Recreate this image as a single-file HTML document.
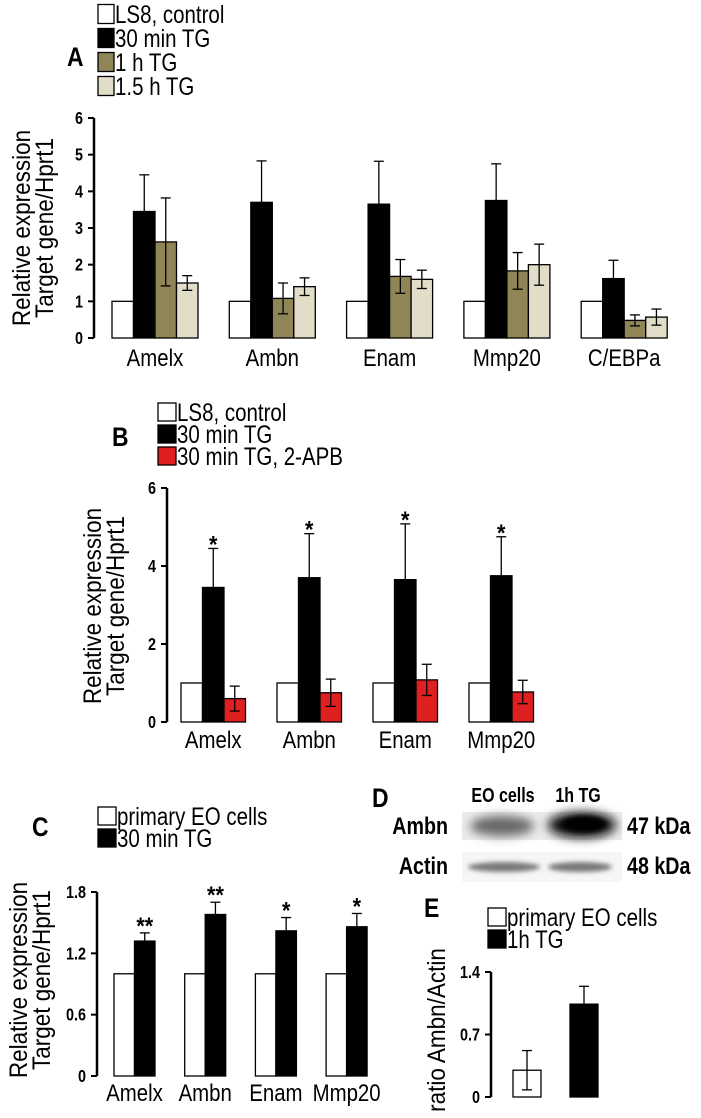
<!DOCTYPE html>
<html><head><meta charset="utf-8"><style>
html,body{margin:0;padding:0;background:#fff;}
svg{display:block;font-family:"Liberation Sans",sans-serif;}
</style></head><body>
<svg id="fig" width="701" height="1118" viewBox="0 0 701 1118" xmlns="http://www.w3.org/2000/svg">
<defs>
<filter id="blur" x="-30%" y="-60%" width="160%" height="220%"><feGaussianBlur stdDeviation="5"/></filter>
<filter id="blur2" x="-30%" y="-60%" width="160%" height="220%"><feGaussianBlur stdDeviation="2.5"/></filter>
</defs>
<g id="root"></g>
</svg>
<script>
// Panel A data
const catsA = ["Amelx","Ambn","Enam","Mmp20","C/EBPa"];
const ctrlA = [1,1,1,1,1];
const tg30A = [3.45,3.7,3.65,3.75,1.62];
const tg30ErrA = [1.0,1.13,1.17,1.0,0.5];
const tg1hA = [2.62,1.08,1.68,1.83,0.48];
const tg1hErrA = [1.2,0.42,0.46,0.5,0.15];
const tg15A = [1.5,1.4,1.6,2.0,0.57];
const tg15ErrA = [0.2,0.24,0.25,0.56,0.22];
const ticksA = [0,1,2,3,4,5,6];
// Panel B data
const catsB = ["Amelx","Ambn","Enam","Mmp20"];
const ctrlB = [1,1,1,1];
const tg30B = [3.45,3.7,3.65,3.75];
const tg30ErrB = [1.0,1.13,1.43,1.0];
const apbB = [0.6,0.75,1.08,0.77];
const apbErrB = [0.32,0.35,0.4,0.3];
const starsB = ["*","*","*","*"];
const ticksB = [0,2,4,6];
// Panel C data
const catsC = ["Amelx","Ambn","Enam","Mmp20"];
const ctrlC = [1,1,1,1];
const tg30C = [1.32,1.58,1.42,1.46];
const tg30ErrC = [0.08,0.12,0.13,0.13];
const starsC = ["**","**","*","*"];
const ticksC = [0,0.6,1.2,1.8];
const tickLabC = ["0","0.6","1.2","1.8"];
// Panel E data
const catsE = ["primary EO cells","1h TG"];
const valsE = [0.3,1.04];
const errE = [0.22,0.2];
const ticksE = [0,0.7,1.4];
const tickLabE = ["0","0.7","1.4"];

const NS="http://www.w3.org/2000/svg";
const root=document.getElementById('root');
function mk(tag,attrs,parent,txt){const e=document.createElementNS(NS,tag);for(const k in attrs)e.setAttribute(k,attrs[k]);if(txt!==undefined)e.textContent=txt;(parent||root).appendChild(e);return e;}
function T(g,x,y,s,size,opts){
  opts=opts||{};
  const sx=opts.sx||0.82;
  const a={x:0,y:0,'font-size':size,transform:`translate(${x},${y})${opts.rot?' rotate(-90)':''} scale(${sx},1)`};
  if(opts.anchor)a['text-anchor']=opts.anchor;
  if(opts.bold)a['font-weight']='bold';
  return mk('text',a,g,s);
}
function scale(d0,d1,r0,r1){return v=>r0+(v-d0)/(d1-d0)*(r1-r0);}

function axis(g,x,y,ticks,labels,top){
  const ln=mk('line',{x1:x,y1:y(ticks[0]),x2:x,y2:y(top),stroke:'#000','stroke-width':2.5},g);
  
  
  ticks.forEach((t,i)=>{
    const tl=mk('line',{x1:x-6,y1:y(t),x2:x,y2:y(t),stroke:'#000','stroke-width':2},g);
    
    
    const tx=T(g,x-11,y(t)+6,labels?labels[i]:String(t),18,{anchor:'end',bold:true,sx:0.8});
    
    
  });
}
function bar(g,x,w,y,v,fill,name){
  const r=mk('rect',{x:x,y:y(v),width:w,height:y(0)-y(v),fill:fill,stroke:'#000','stroke-width':1.3},g);
  
  
}
function err(g,cx,y,v,e,both){
  const lo=both?v-e:v;
  const l=mk('line',{x1:cx,y1:y(lo),x2:cx,y2:y(v+e),stroke:'#000','stroke-width':1.3},g);
  
  
  mk('line',{x1:cx-5,y1:y(v+e),x2:cx+5,y2:y(v+e),stroke:'#000','stroke-width':1.3},g);
  if(both) mk('line',{x1:cx-5,y1:y(lo),x2:cx+5,y2:y(lo),stroke:'#000','stroke-width':1.3},g);
}
function legend(g,x,y0,dy,items,w,h){
  items.forEach((it,i)=>{
    const r=mk('rect',{x:x,y:y0+i*dy-h/2,width:w,height:h,fill:it[1],stroke:'#000','stroke-width':1.3},g);
    
    
    const t=T(g,x+w+1,y0+i*dy+9,it[0],25,{sx:0.82});
    
    
  });
}
function ytitle(g,cx,cy,lines){
  lines.forEach((s,i)=>{
    const t=T(g,cx+i*23,cy,s,25,{anchor:'middle',rot:true,sx:0.9});
    
    
  });
}
function label(g,x,y,s,name){const t=T(g,x,y,s,27,{bold:true,sx:0.85});return t;}
function xlab(g,x,y,s){const t=T(g,x,y,s,24,{anchor:'middle',sx:0.85});}
function star(g,x,y,s){const t=T(g,x,y,s,24,{anchor:'middle',bold:true,sx:0.9});}

// ---------- Panel A ----------
{
const g=mk('g',{});  
label(g,67,66,'A','panel-a-label');
legend(g,98,14,24,[["LS8, control","#fff"],["30 min TG","#000"],["1 h TG","#8f8557"],["1.5 h TG","#e1ddc9"]],16,19);
const y=scale(0,6,338,118);
ytitle(g,30,228,["Relative expression","Target gene/Hprt1"]);
axis(g,94,y,ticksA,null,6);
const bw=21.5, x0=112, sp=117.3;
catsA.forEach((c,i)=>{
  const gx=x0+i*sp;
  bar(g,gx,bw,y,ctrlA[i],'#fff','bar-control');
  bar(g,gx+bw,bw,y,tg30A[i],'#000','bar-30min');
  err(g,gx+bw*1.5,y,tg30A[i],tg30ErrA[i],false);
  bar(g,gx+bw*2,bw,y,tg1hA[i],'#8f8557','bar-1h');
  err(g,gx+bw*2.5,y,tg1hA[i],tg1hErrA[i],true);
  bar(g,gx+bw*3,bw,y,tg15A[i],'#e1ddc9','bar-1-5h');
  err(g,gx+bw*3.5,y,tg15A[i],tg15ErrA[i],true);
  xlab(g,gx+bw*2,366,c);
});
}
// ---------- Panel B ----------
{
const g=mk('g',{});  
label(g,112,446,'B','panel-b-label');
legend(g,158,412,22,[["LS8, control","#fff"],["30 min TG","#000"],["30 min TG, 2-APB","#e02020"]],18,18);
const y=scale(0,6,722,488);
ytitle(g,101,606,["Relative expression","Target gene/Hprt1"]);
axis(g,167,y,ticksB,null,6);
const bw=21.5, x0=181, sp=96;
catsB.forEach((c,i)=>{
  const gx=x0+i*sp;
  bar(g,gx,bw,y,ctrlB[i],'#fff','bar-control');
  bar(g,gx+bw,bw,y,tg30B[i],'#000','bar-30min');
  err(g,gx+bw*1.5,y,tg30B[i],tg30ErrB[i],false);
  star(g,gx+bw*1.5,y(tg30B[i]+tg30ErrB[i])+4,starsB[i]);
  bar(g,gx+bw*2,bw,y,apbB[i],'#e02020','bar-2apb');
  err(g,gx+bw*2.5,y,apbB[i],apbErrB[i],true);
  xlab(g,gx+bw*1.5,748,c);
});
}
// ---------- Panel C ----------
{
const g=mk('g',{});  
label(g,32,836,'C','panel-c-label');
legend(g,98,816,22,[["primary EO cells","#fff"],["30 min TG","#000"]],18,18);
const y=scale(0,1.8,1076,892);
ytitle(g,27,980,["Relative expression","Target gene/Hprt1"]);
axis(g,97,y,ticksC,tickLabC,1.8);
const bw=20.5, x0=114, sp=70.7;
catsC.forEach((c,i)=>{
  const gx=x0+i*sp;
  bar(g,gx,bw,y,ctrlC[i],'#fff','bar-control');
  bar(g,gx+bw,bw,y,tg30C[i],'#000','bar-30min');
  err(g,gx+bw*1.5,y,tg30C[i],tg30ErrC[i],false);
  star(g,gx+bw*1.5,y(tg30C[i]+tg30ErrC[i])+1,starsC[i]);
  xlab(g,gx+bw,1101,c);
});
}
// ---------- Panel D (blot) ----------
{
const g=mk('g',{});  
label(g,372,807,'D','panel-d-label');
[["EO cells",503],["1h TG",578]].forEach(a=>{const t=T(g,a[1],802,a[0],20,{anchor:'middle',bold:true,sx:0.8});});
[["Ambn",834],["Actin",874]].forEach(a=>{const t=T(g,448,a[1],a[0],24,{anchor:'end',bold:true,sx:0.82});});
[["47 kDa",834],["48 kDa",874]].forEach(a=>{const t=T(g,627,a[1],a[0],24,{bold:true,sx:0.82});});
const s1=mk('rect',{x:462,y:812,width:160,height:28,fill:'#ececec'},g);


mk('ellipse',{cx:502,cy:826,rx:32,ry:10,fill:'#666','filter':'url(#blur)'},g);
mk('ellipse',{cx:582,cy:825,rx:34,ry:13,fill:'#111','filter':'url(#blur)'},g);
mk('ellipse',{cx:584,cy:824,rx:22,ry:8,fill:'#000','filter':'url(#blur2)'},g);
const s2=mk('rect',{x:462,y:852,width:160,height:30,fill:'#f6f6f6'},g);


mk('ellipse',{cx:504,cy:867,rx:36,ry:5,fill:'#777','filter':'url(#blur2)'},g);
mk('ellipse',{cx:580,cy:867,rx:32,ry:5,fill:'#777','filter':'url(#blur2)'},g);
}
// ---------- Panel E ----------
{
const g=mk('g',{});  
label(g,424,917,'E','panel-e-label');
legend(g,488,917,22,[["primary EO cells","#fff"],["1h TG","#000"]],18,18);
const y=scale(0,1.4,1097,972);
const yt=T(g,445,1030,'ratio Ambn/Actin',25,{anchor:'middle',rot:true,sx:0.9});


axis(g,491,y,ticksE,tickLabE,1.4);
const xs=[513,570], bw=28;
catsE.forEach((c,i)=>{
  bar(g,xs[i],bw,y,valsE[i],i===0?'#fff':'#000',i===0?'bar-primary-eo':'bar-1h-tg');
  err(g,xs[i]+bw/2,y,valsE[i],errE[i],i===0);
});
}
</script>
</body></html>
